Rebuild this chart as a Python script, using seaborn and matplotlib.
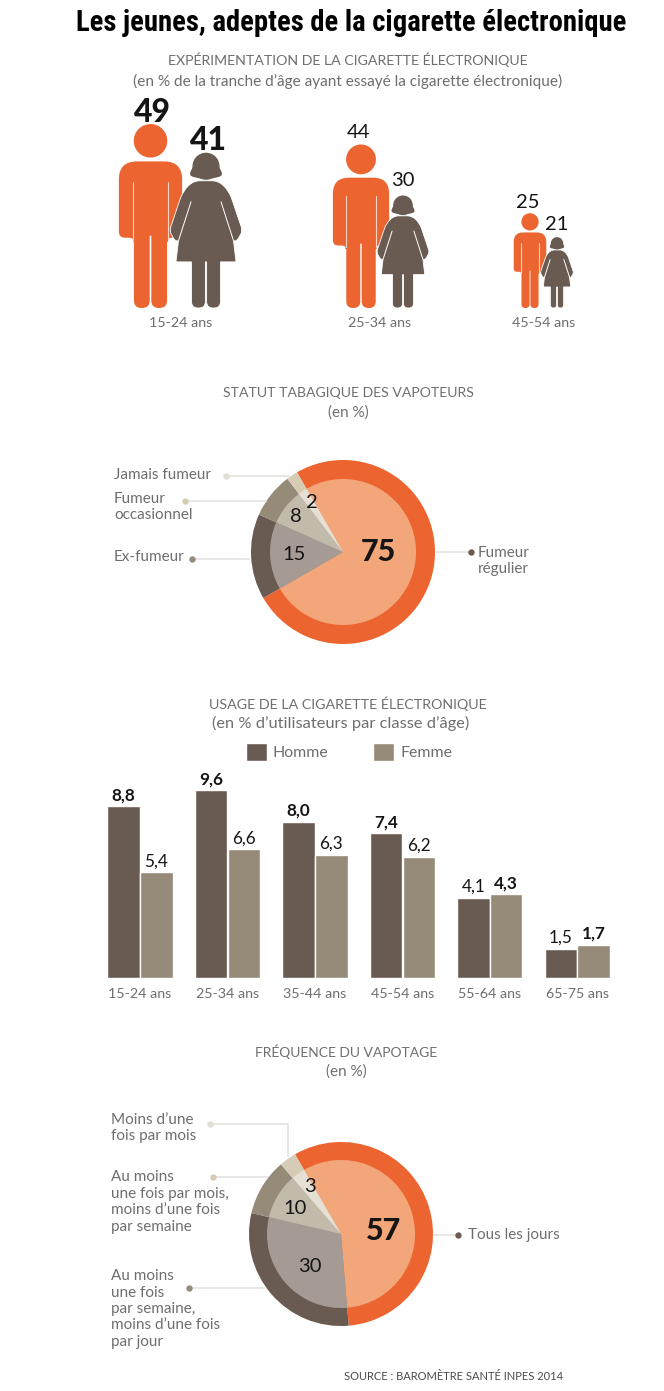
import matplotlib.pyplot as plt
import pandas as pd
import seaborn as sns
from matplotlib.path import Path
from matplotlib.patches import Circle, PathPatch

W, H = 664, 1391
BODY_FONT = "Lato"

# experimentation par tranche d'age
people_ages = ["15-24 ans", "25-34 ans", "45-54 ans"]
people_men = [49, 44, 25]
people_women = [41, 30, 21]

# statut tabagique
status_labels = ["Fumeur\nrégulier", "Ex-fumeur", "Fumeur\noccasionnel", "Jamais fumeur"]
status_values = [75, 15, 8, 2]

# usage par classe d'age
usage_ages = ["15-24 ans", "25-34 ans", "35-44 ans", "45-54 ans", "55-64 ans", "65-75 ans"]
usage_men = [8.8, 9.6, 8.0, 7.4, 4.1, 1.5]
usage_women = [5.4, 6.6, 6.3, 6.2, 4.3, 1.7]

# frequence du vapotage
freq_labels = [
    "Tous les jours",
    "Au moins\nune fois\npar semaine,\nmoins d’une fois\npar jour",
    "Au moins\nune fois par mois,\nmoins d’une fois\npar semaine",
    "Moins d’une\nfois par mois",
]
freq_values = [57, 30, 10, 3]

ORANGE = "#EC6430"
BROWN = "#6A5B52"
TAUPE = "#968A78"
SAND = "#D6CBB4"
OUTER = [ORANGE, BROWN, TAUPE, SAND]
INNER = ["#F4A67B", "#A69B94", "#C2BAAB", "#E6E0D4"]
GREY = "#6E6E6E"
INK = "#151515"
LINE = "#E2E0DC"

sns.set_theme(style="white")
plt.rcParams["font.family"] = [BODY_FONT, "DejaVu Sans"]

fig = plt.figure(figsize=(W / 100, H / 100), dpi=100, facecolor="white")

# calque en pixels pour les textes, filets et pictogrammes
canvas = fig.add_axes([0, 0, 1, 1], zorder=5)
canvas.set_xlim(0, W)
canvas.set_ylim(H, 0)
canvas.axis("off")
canvas.patch.set_alpha(0)


def rounded_path(points):
    """Contour ferme a coins arrondis : points = (x, y, rayon)."""
    verts, codes = [], []
    n = len(points)
    for i, (x, y, r) in enumerate(points):
        px, py = points[i - 1][:2]
        nx, ny = points[(i + 1) % n][:2]
        d1 = max(((px - x) ** 2 + (py - y) ** 2) ** 0.5, 1e-6)
        d2 = max(((nx - x) ** 2 + (ny - y) ** 2) ** 0.5, 1e-6)
        a = (x + (px - x) * min(r, d1 / 2) / d1, y + (py - y) * min(r, d1 / 2) / d1)
        b = (x + (nx - x) * min(r, d2 / 2) / d2, y + (ny - y) * min(r, d2 / 2) / d2)
        verts.append(a)
        codes.append(Path.MOVETO if i == 0 else Path.LINETO)
        verts += [(x, y), b]
        codes += [Path.CURVE3, Path.CURVE3]
    verts.append(verts[0])
    codes.append(Path.CLOSEPOLY)
    return verts, codes


def mirrored(half):
    return half + [(-x, y, r) for x, y, r in reversed(half)]


MAN_H = 183
MAN_BODY = mirrored([(0.8, 72, 0), (0.8, 0, 7.5), (16.5, 0, 7.5), (16.5, 66, 0), (17.5, 66, 0),
                     (17.5, 70, 5), (31.5, 70, 6), (31.5, 146, 18)])
WOMAN_H = 155
WOMAN_BODY = mirrored([(0.6, 46, 0), (0.6, 0, 6.5), (14.5, 0, 6.5), (14.5, 46, 0), (30, 46, 1),
                       (27.5, 67, 1), (31, 67, 4), (36.5, 77, 4), (23, 117, 8), (12, 127, 6)])
WOMAN_HAIR = mirrored([(5, 129, 3), (17.5, 132, 5), (11, 145, 0)])
PX_PER_POINT = 3.75
# la maquette ne respecte pas tout a fait l'echelle
man_fit = [1.0, 0.99, 1.01]
woman_fit = [1.01, 1.0, 0.9]


def add_shape(points, cx, base, s, color, **kw):
    verts, codes = rounded_path(points)
    verts = [(cx + x * s, base - y * s) for x, y in verts]
    canvas.add_patch(PathPatch(Path(verts, codes), fc=color, ec=kw.get("ec", "none"),
                               lw=kw.get("lw", 0), zorder=kw.get("zorder", 2)))


def draw_man(value, fit, cx, base):
    s = value * PX_PER_POINT * fit / MAN_H
    add_shape(MAN_BODY, cx, base, s, ORANGE)
    canvas.add_patch(Circle((cx, base - 166.5 * s), 16.7 * s, fc=ORANGE, ec="none", zorder=2))
    for side in (-1, 1):
        canvas.plot([cx + side * 17 * s] * 2, [base - 68 * s, base - 125 * s], color="#F8D5C5", lw=0.8, zorder=3)


def draw_woman(value, fit, cx, base):
    s = value * PX_PER_POINT * fit / WOMAN_H
    add_shape(WOMAN_BODY, cx, base, s, BROWN, ec="white", lw=0.6, zorder=4)
    add_shape(WOMAN_HAIR, cx, base, s, BROWN, zorder=4)
    canvas.add_patch(Circle((cx, base - 141.5 * s), 13.5 * s, fc=BROWN, ec="none", zorder=4))
    for side in (-1, 1):
        canvas.plot([cx + side * 15 * s, cx + side * 27.5 * s], [base - 106 * s, base - 67 * s],
                    color="white", lw=0.7, zorder=5)


def label(x, y, s, size=11, color=GREY, ha="left", weight="normal", **kw):
    canvas.text(x, y, s, fontsize=size, color=color, ha=ha, va="center", weight=weight, **kw)


def leader(xs, ys, dot_color):
    canvas.plot(xs, ys, color=LINE, lw=1.1, zorder=1, solid_capstyle="butt")
    canvas.plot(xs[0], ys[0], "o", ms=4.6, color=dot_color, mec="none", zorder=2)


def draw_pie(values, cx, cy, r_out, r_in, start=120):
    box = r_out * 1.25
    ax = fig.add_axes([(cx - box) / W, 1 - (cy + box) / H, 2 * box / W, 2 * box / H])
    ax.pie(values, colors=OUTER, radius=1, startangle=start, counterclock=False,
           wedgeprops={"linewidth": 0})
    ax.pie(values, colors=INNER, radius=r_in / r_out, startangle=start, counterclock=False,
           wedgeprops={"linewidth": 0})
    ax.set_aspect("equal")
    return ax


# titre
canvas.text(351.5, 23, "Les jeunes, adeptes de la cigarette électronique", fontsize=20.6,
            family=["Roboto Condensed", "DejaVu Sans"], weight="bold", color="black",
            ha="center", va="center")

# 1. pictogrammes
label(348, 60, "EXPÉRIMENTATION DE LA CIGARETTE ÉLECTRONIQUE", size=10.2, ha="center")
label(348, 81, "(en % de la tranche d’âge ayant essayé la cigarette électronique)", size=11.1, ha="center")

BASE = 308
man_x = [150.5, 361, 530]
woman_x = [206, 403, 557]
age_x = [181, 380, 544]
man_label_y = [112, 133, 202]
woman_label_y = [140, 181, 225]
for i, age in enumerate(people_ages):
    draw_man(people_men[i], man_fit[i], man_x[i], BASE)
    draw_woman(people_women[i], woman_fit[i], woman_x[i], BASE)
    big = i == 0
    label(man_x[i] + (2 if big else -2), man_label_y[i], str(people_men[i]), size=23 if big else 14.5,
          color=INK, ha="center", weight=900 if big else "normal")
    label(woman_x[i] + (2 if big else 0), woman_label_y[i], str(people_women[i]), size=23 if big else 14.5,
          color=INK, ha="center", weight=900 if big else "normal")
    label(age_x[i], 323, age, size=10.3, ha="center")

# 2. statut tabagique
label(348, 393, "STATUT TABAGIQUE DES VAPOTEURS", size=10.1, ha="center")
label(348, 413, "(en %)", ha="center")
draw_pie(status_values, 343, 552, 92, 73)
label(378, 552, str(status_values[0]), size=22, color=INK, ha="center", weight=900)
label(294, 555, str(status_values[1]), size=14.5, color=INK, ha="center")
label(296, 517, str(status_values[2]), size=14.5, color=INK, ha="center")
label(312, 503, str(status_values[3]), size=14.5, color=INK, ha="center")
leader([471, 436], [552, 552], BROWN)
leader([192, 250], [559, 559], TAUPE)
leader([185, 267], [501, 501], SAND)
leader([226, 290], [476, 476], "#E3DED4")
label(478, 561, status_labels[0], linespacing=1.22)
label(114, 557, status_labels[1])
label(114, 507, status_labels[2], linespacing=1.22)
label(114, 475, status_labels[3])

# 3. usage, barres
label(348, 704, "USAGE DE LA CIGARETTE ÉLECTRONIQUE", size=10.25, ha="center")
label(341, 723, "(en % d’utilisateurs par classe d’âge)", size=11.8, ha="center")

usage = pd.DataFrame({
    "age": usage_ages * 2,
    "sexe": ["Homme"] * len(usage_ages) + ["Femme"] * len(usage_ages),
    "valeur": usage_men + usage_women,
})
px_per_unit = 19.55
bar_left, bar_right, bar_base, bar_top = 96.25, 621, 978, 778
ax_bar = fig.add_axes([bar_left / W, 1 - bar_base / H, (bar_right - bar_left) / W, (bar_base - bar_top) / H])
sns.barplot(data=usage, x="age", y="valeur", hue="sexe", palette=[BROWN, TAUPE], width=0.75, gap=0.01,
            saturation=1, ax=ax_bar)
ax_bar.set_ylim(0, (bar_base - bar_top) / px_per_unit)
ax_bar.set_xlim(-0.5, len(usage_ages) - 0.5)
ax_bar.set(xlabel="", ylabel="", yticks=[])
ax_bar.tick_params(axis="x", length=0, pad=7, labelsize=10.3, labelcolor=GREY)
sns.despine(ax=ax_bar, left=True, bottom=True)
ax_bar.patch.set_alpha(0)

for own, other, cont in ((usage_men, usage_women, ax_bar.containers[0]),
                         (usage_women, usage_men, ax_bar.containers[1])):
    texts = ax_bar.bar_label(cont, labels=[f"{v:.1f}".replace(".", ",") for v in own], padding=2,
                             fontsize=12.3, color=INK)
    for t, a, b in zip(texts, own, other):
        if a > b:
            t.set_fontweight("bold")

ax_bar.legend(loc="center", bbox_to_anchor=(349 / W, 1 - 752 / H), bbox_transform=fig.transFigure, ncol=2,
              frameon=False, fontsize=11.4, handlelength=1.33, handleheight=1.4, handletextpad=0.38,
              columnspacing=2.8, labelcolor=GREY)

# 4. frequence
label(346, 1052, "FRÉQUENCE DU VAPOTAGE", size=10, ha="center")
label(346, 1072, "(en %)", ha="center")
draw_pie(freq_values, 341, 1234, 92, 74)
label(384, 1231, str(freq_values[0]), size=22, color=INK, ha="center", weight=900)
label(310, 1266, str(freq_values[1]), size=14.5, color=INK, ha="center")
label(295, 1209, str(freq_values[2]), size=14.5, color=INK, ha="center")
label(310, 1187, str(freq_values[3]), size=14.5, color=INK, ha="center")
leader([458, 433], [1235, 1235], BROWN)
leader([189, 265], [1288, 1288], TAUPE)
leader([213, 268], [1177, 1177], SAND)
leader([210, 288, 288], [1124, 1124, 1157], "#E3DED4")
label(468, 1235, freq_labels[0])
label(111, 1309, freq_labels[1], linespacing=1.22)
label(111, 1202, freq_labels[2], linespacing=1.22)
label(111, 1128, freq_labels[3], linespacing=1.22)

label(563, 1377, "SOURCE : BAROMÈTRE SANTÉ INPES 2014", size=8, color="#4A4A4A", ha="right")

fig.savefig("out.png", dpi=100)
